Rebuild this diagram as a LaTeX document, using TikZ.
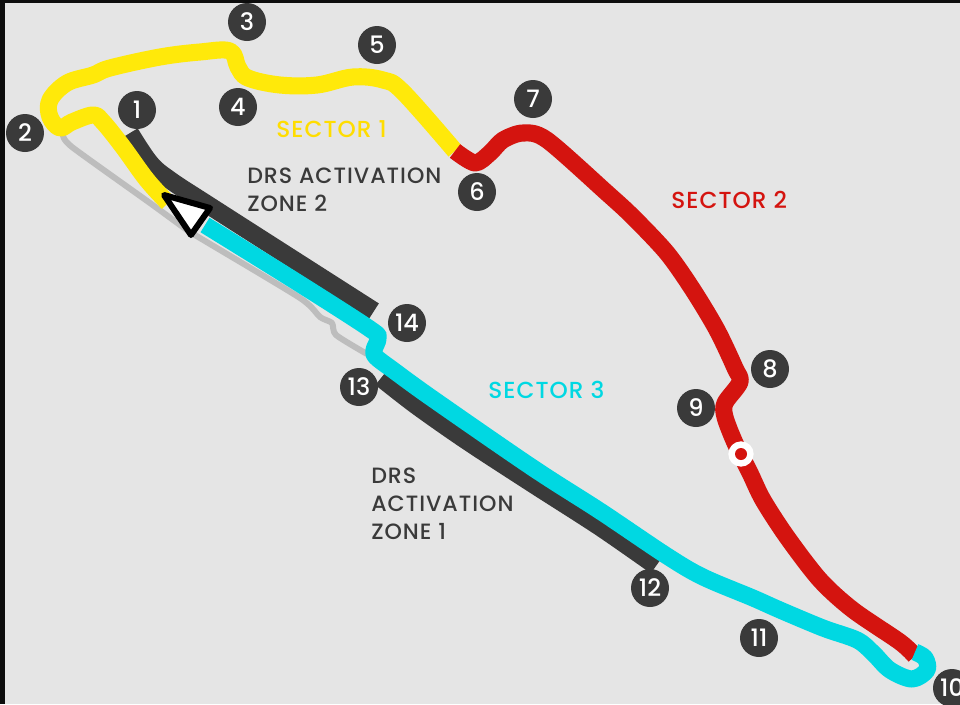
\documentclass[tikz,border=0pt]{standalone}
\usepackage{fontspec}
\setmainfont{Poppins}
\newfontfamily\labfont[LetterSpace=4.5]{Poppins Medium}
\newfontfamily\numfont{Poppins Medium}
\definecolor{bgc}{HTML}{E5E5E5}
\definecolor{darkc}{HTML}{3A3A3A}
\definecolor{yel}{HTML}{FFE90A}
\definecolor{yeltext}{HTML}{FFDD00}
\definecolor{redc}{HTML}{D4140F}
\definecolor{cyanc}{HTML}{00D8E2}
\definecolor{greyc}{HTML}{BDBDBD}
\tikzset{
  trk/.style={line width=12.8pt,line join=round},
  drs/.style={line width=13.5pt,line join=round},
  num/.style={circle,fill=darkc,text=white,minimum size=28.5pt,inner sep=0pt,font=\numfont\fontsize{18}{18}\selectfont},
  lab/.style={font=\labfont\fontsize{16.6}{21}\selectfont,align=left,anchor=north west,inner sep=0pt},
  sect/.style={font=\labfont\fontsize{17.4}{21}\selectfont,anchor=north west,inner sep=0pt},
}
\begin{document}
\begin{tikzpicture}[x=0.75pt,y=-0.75pt]
\useasboundingbox (0,0) rectangle (960,704);
\fill[black!95] (0,0) rectangle (960,704);
\fill[bgc] (5,3) rectangle (960,704);
% grey shadow
\draw[greyc,line width=4.5pt,line join=round] plot[smooth,tension=0.4] coordinates {(63,135) (72,147) (150,203) (187,230) (200,238) (300,298) (320,317) (332,323) (336,335) (367,354)};
% dark DRS zones
\draw[darkc,drs] plot[smooth,tension=0.6] coordinates {(130,133) (150,163) (170,180) (213,208) (374,311)};
\draw[darkc,drs] plot[smooth,tension=0.5] coordinates {(381,378) (417,406) (467,441) (533,484) (600,527) (656,566)};
% yellow
\draw[yel,trk] plot[smooth,tension=0.6] coordinates {(168,203) (147,180) (123,147) (103,122) (93,115) (72,122) (60,128) (50,117) (50,100) (67,83) (93,75) (110,68) (160,57) (200,52) (230,51) (238,67) (248,78) (280,85) (317,85) (353,77) (383,80) (403,92) (455,151)};
% red
\draw[redc,trk] plot[smooth,tension=0.5] coordinates {(455,151) (475,163) (490,153) (503,140) (523,133) (547,140) (607,193) (633,217) (667,253) (693,290) (717,330) (735,368) (740,382) (725,403) (725,417) (735,443) (750,473) (763,500) (787,537) (820,580) (853,610) (900,642) (915,656)};
% cyan
\draw[cyanc,trk] plot[smooth,tension=0.55] coordinates {(205,225) (300,284) (370,329) (378,338) (374,350) (376,357) (393,370) (433,399) (533,468) (600,511) (667,556) (703,577) (753,598) (780,610) (823,628) (857,640) (873,653) (890,670) (912,679) (927,670) (925,658) (915,652)};
% start arrow
\draw[black,fill=white,line width=4.5pt,line join=round] (164,195) -- (210,208) -- (191,235) -- cycle;
% dot
\node[circle,fill=white,minimum size=19pt,inner sep=0pt] (dotw) at (741,454) {};
\node[circle,fill=redc,minimum size=9pt,inner sep=0pt] (dotr) at (741,454) {};
% numbers
\node[num] (n1) at (137,110) {1};
\node[num] (n2) at (25,133) {2};
\node[num] (n3) at (247,22) {3};
\node[num] (n4) at (238,107) {4};
\node[num] (n5) at (377,45) {5};
\node[num] (n6) at (477,192) {6};
\node[num] (n7) at (533,99) {7};
\node[num] (n8) at (770,369) {8};
\node[num] (n9) at (696,408) {9};
\node[num] (n10) at (952,688) {10};
\node[num] (n11) at (759,638) {11};
\node[num] (n12) at (650,588) {12};
\node[num] (n13) at (359,387) {13};
\node[num] (n14) at (407,323) {14};
% labels
\node[sect,text=yeltext] (s1) at (276,120) {SECTOR 1};
\node[sect,text=redc] (s2) at (671,191) {SECTOR 2};
\node[sect,text=cyanc] (s3) at (488,381) {SECTOR 3};
\node[lab,text=darkc] (d2) at (247,168) {DRS ACTIVATION\\ZONE 2};
\node[lab,text=darkc] (d1) at (371,468) {DRS\\ACTIVATION\\ZONE 1};
\end{tikzpicture}
\end{document}
